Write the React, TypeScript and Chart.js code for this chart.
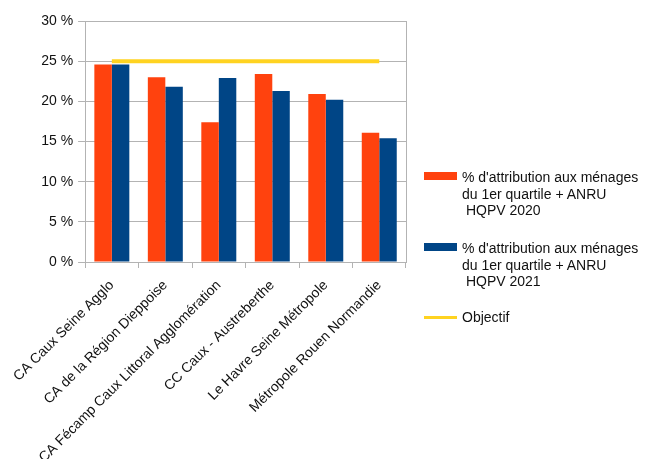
import React, { useEffect, useRef } from "react";
import { Chart, registerables } from "chart.js";

Chart.register(...registerables);

const categories = [
  "CA Caux Seine Agglo",
  "CA de la Région Dieppoise",
  "CA Fécamp Caux Littoral Agglomération",
  "CC Caux - Austreberthe",
  "Le Havre Seine Métropole",
  "Métropole Rouen Normandie",
];
const values2020 = [24.6, 23.0, 17.4, 23.4, 20.9, 16.1];
const values2021 = [24.6, 21.8, 22.9, 21.3, 20.2, 15.4];
const objectif = [25, 25, 25, 25, 25, 25];
const yTicks = [0, 5, 10, 15, 20, 25, 30];

const label2020 = ["% d'attribution aux ménages", "du 1er quartile + ANRU", "\u00a0HQPV 2020"];
const label2021 = ["% d'attribution aux ménages", "du 1er quartile + ANRU", "\u00a0HQPV 2021"];
const labelObj = ["Objectif"];

const ORANGE = "#ff420e";
const BLUE = "#004586";
const YELLOW = "#ffd320";
const GRID = "#b3b3b3";
const FONT = "'Liberation Sans', Arial, sans-serif";
const FS = 14;

const rightBorder = {
  id: "rightBorder",
  afterDraw(chart: any) {
    const { ctx, chartArea } = chart;
    ctx.save();
    ctx.strokeStyle = GRID;
    ctx.lineWidth = 1;
    ctx.beginPath();
    const x = Math.round(chartArea.right) + 0.5;
    ctx.moveTo(x, chartArea.top);
    ctx.lineTo(x, chartArea.bottom);
    ctx.stroke();
    ctx.restore();
  },
};

function LegendItem({ color, lines, top, thin }: { color: string; lines: string[]; top: number; thin?: boolean }) {
  return (
    <div style={{ position: "absolute", left: 424, top, display: "flex", alignItems: "flex-start" }}>
      <div
        style={{
          width: 33,
          height: thin ? 3 : 8,
          background: color,
          marginTop: thin ? 7 : 3,
          marginRight: 5,
        }}
      />
      <div style={{ fontFamily: FONT, fontSize: FS, lineHeight: "16.5px", color: "#111", whiteSpace: "pre" }}>
        {lines.map((l, i) => (
          <div key={i}>{l}</div>
        ))}
      </div>
    </div>
  );
}

export default function App() {
  const ref = useRef<HTMLCanvasElement>(null);
  useEffect(() => {
    if (!ref.current) return;
    const chart = new Chart(ref.current, {
      type: "bar",
      data: {
        labels: categories,
        datasets: [
          {
            type: "line",
            label: "Objectif",
            data: objectif,
            borderColor: YELLOW,
            backgroundColor: YELLOW,
            borderWidth: 4,
            pointRadius: 0,
            order: 0,
          } as any,
          {
            label: label2020.join(" "),
            data: values2020,
            backgroundColor: ORANGE,
            categoryPercentage: 0.654,
            barPercentage: 1,
            order: 1,
          },
          {
            label: label2021.join(" "),
            data: values2021,
            backgroundColor: BLUE,
            categoryPercentage: 0.654,
            barPercentage: 1,
            order: 1,
          },
        ],
      },
      options: {
        animation: false,
        responsive: false,
        maintainAspectRatio: false,
        layout: { padding: { top: 21, right: 240, left: 0, bottom: 0 } },
        plugins: { legend: { display: false }, tooltip: { enabled: false } },
        scales: {
          x: {
            grid: { display: true, drawOnChartArea: false, drawTicks: true, tickLength: 6, color: GRID, offset: true },
            border: { display: true, color: GRID },
            ticks: {
              minRotation: 45,
              maxRotation: 45,
              color: "#111",
              font: { family: FONT, size: FS },
              padding: 9,
              autoSkip: false,
            },
            afterFit: (scale: any) => {
              scale.height = 197;
            },
          },
          y: {
            min: 0,
            max: 30,
            afterBuildTicks: (scale: any) => {
              scale.ticks = yTicks.map((v) => ({ value: v }));
            },
            ticks: {
              color: "#111",
              font: { family: FONT, size: FS },
              padding: 5,
              callback: (v: any) => v + " %",
            },
            grid: { color: GRID, tickLength: 7, drawTicks: true },
            border: { display: true, color: GRID },
            afterFit: (scale: any) => {
              scale.width = 85;
            },
          },
        },
      },
      plugins: [rightBorder],
    });
    return () => chart.destroy();
  }, []);
  return (
    <div style={{ position: "absolute", left: 0, top: 0, width: 646, height: 459, overflow: "hidden", background: "#fff" }}>
      <canvas ref={ref} width={646} height={459} style={{ position: "absolute", left: 0, top: 0 }} />
      <LegendItem color={ORANGE} lines={label2020} top={169} />
      <LegendItem color={BLUE} lines={label2021} top={240} />
      <LegendItem color={YELLOW} lines={labelObj} top={309} thin />
    </div>
  );
}
